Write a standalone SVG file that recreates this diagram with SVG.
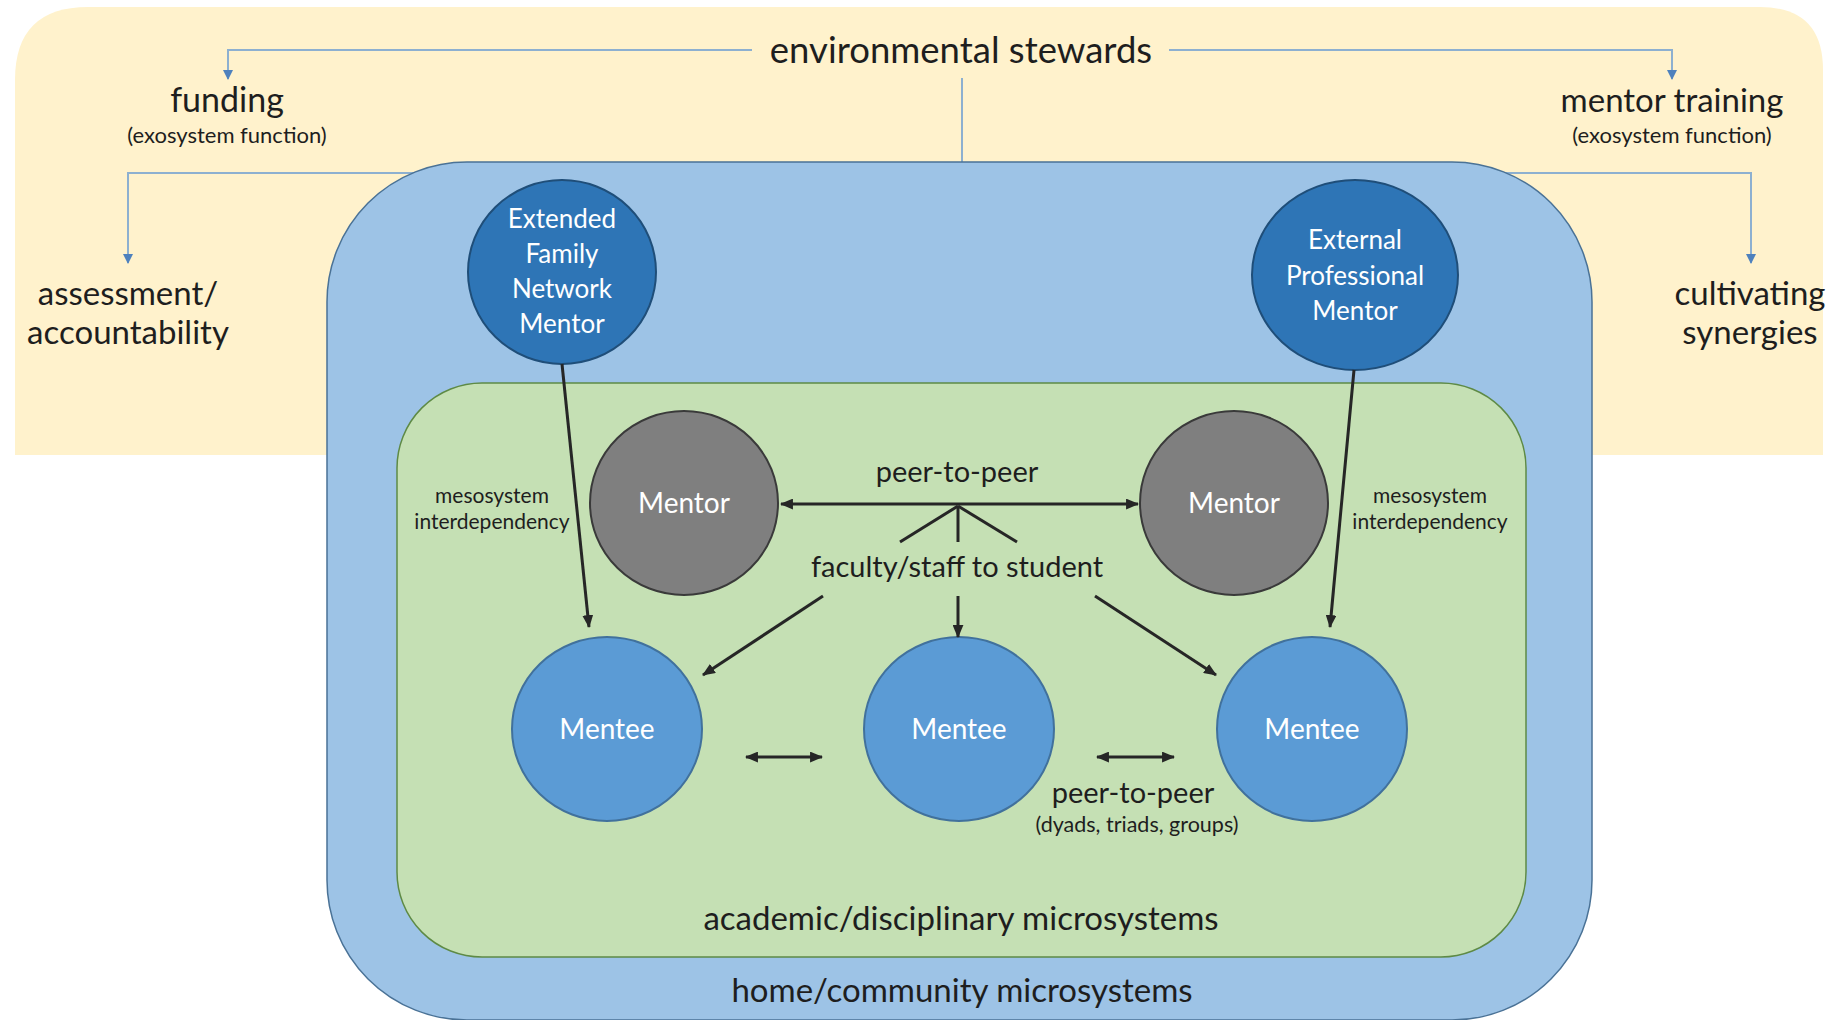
<svg xmlns="http://www.w3.org/2000/svg" width="1829" height="1020" viewBox="0 0 1829 1020">
<style>
  text { font-family: Lato, "Open Sans", "Liberation Sans", sans-serif; fill: #1e1e1e; text-anchor: middle; }
  .big { font-size: 33px; }
  .sub { font-size: 22px; }
  .mid { font-size: 29px; }
  .small { font-size: 21px; }
  .wt { fill: #ffffff; font-size: 26px; }
  .wn { fill: #ffffff; font-size: 28px; }
  .blue-line { fill: none; stroke: #8DB0D0; stroke-width: 2; }
  .blk { fill: none; stroke: #262626; stroke-width: 3; }
</style>
<defs>
  <marker id="ah" viewBox="0 0 12 10" markerWidth="13" markerHeight="11" refX="11" refY="5" orient="auto-start-reverse" markerUnits="userSpaceOnUse">
    <path d="M0,0 L12,5 L0,10 Z" fill="#262626"/>
  </marker>
  <marker id="bh" viewBox="0 0 10 10" markerWidth="11" markerHeight="10" refX="9" refY="5" orient="auto" markerUnits="userSpaceOnUse">
    <path d="M0,0 L10,5 L0,10 Z" fill="#4E81BD"/>
  </marker>
</defs>

<!-- exosystem background -->
<g id="exosystem">
  <path d="M15,455 V80 Q15,7 88,7 H1760 Q1823,7 1823,70 V455 Z" fill="#FFF2CC"/>
</g>

<!-- connectors behind the microsystem box -->
<g id="connectors-exo">
  <path class="blue-line" d="M752,50 H228 V79" marker-end="url(#bh)"/>
  <path class="blue-line" d="M1169,50 H1672 V79" marker-end="url(#bh)"/>
  <path class="blue-line" d="M414,173 H128 V263" marker-end="url(#bh)"/>
  <path class="blue-line" d="M1505,173 H1751 V263" marker-end="url(#bh)"/>
  <path class="blue-line" d="M962,78 V173"/>
</g>

<g id="home-microsystem">
  <rect x="327" y="162" width="1265" height="858" rx="140" ry="140" fill="#9DC3E6" stroke="#4A7296" stroke-width="1.5"/>
</g>
<g id="academic-microsystem">
  <rect x="397" y="383" width="1129" height="574" rx="85" ry="85" fill="#C5E0B4" stroke="#5E8A45" stroke-width="1.5"/>
</g>

<!-- labels -->
<g id="label-stewards"><text x="961" y="63" style="font-size:36.5px">environmental stewards</text></g>
<g id="label-funding">
  <text class="big" x="227" y="112" style="font-size:34px">funding</text>
  <text class="sub" x="227" y="143">(exosystem function)</text>
</g>
<g id="label-training">
  <text class="big" x="1672" y="112">mentor training</text>
  <text class="sub" x="1672" y="143">(exosystem function)</text>
</g>
<g id="label-assessment">
  <text class="big" x="128" y="305">assessment/</text>
  <text class="big" x="128" y="344">accountability</text>
</g>
<g id="label-synergies">
  <text class="big" x="1750" y="305">cultivating</text>
  <text class="big" x="1750" y="344">synergies</text>
</g>

<!-- nodes -->
<g id="extended-family-mentor">
  <ellipse cx="562" cy="272" rx="94" ry="92" fill="#2E75B6" stroke="#1F4E79" stroke-width="2"/>
  <text class="wt" x="562" y="228">Extended</text>
  <text class="wt" x="562" y="263">Family</text>
  <text class="wt" x="562" y="298">Network</text>
  <text class="wt" x="562" y="333">Mentor</text>
</g>
<g id="external-professional-mentor">
  <ellipse cx="1355" cy="275" rx="103" ry="95" fill="#2E75B6" stroke="#1F4E79" stroke-width="2"/>
  <text class="wt" x="1355" y="249">External</text>
  <text class="wt" x="1355" y="285">Professional</text>
  <text class="wt" x="1355" y="320">Mentor</text>
</g>
<g id="mentor-left">
  <ellipse cx="684" cy="503" rx="94" ry="92" fill="#7F7F7F" stroke="#3A3A3A" stroke-width="2"/>
  <text class="wn" x="684" y="513">Mentor</text>
</g>
<g id="mentor-right">
  <ellipse cx="1234" cy="503" rx="94" ry="92" fill="#7F7F7F" stroke="#3A3A3A" stroke-width="2"/>
  <text class="wn" x="1234" y="513">Mentor</text>
</g>
<g id="mentee-left">
  <ellipse cx="607" cy="729" rx="95" ry="92" fill="#5B9BD5" stroke="#41719C" stroke-width="2"/>
  <text class="wn" x="607" y="739">Mentee</text>
</g>
<g id="mentee-middle">
  <ellipse cx="959" cy="729" rx="95" ry="92" fill="#5B9BD5" stroke="#41719C" stroke-width="2"/>
  <text class="wn" x="959" y="739">Mentee</text>
</g>
<g id="mentee-right">
  <ellipse cx="1312" cy="729" rx="95" ry="92" fill="#5B9BD5" stroke="#41719C" stroke-width="2"/>
  <text class="wn" x="1312" y="739">Mentee</text>
</g>

<!-- inner labels -->
<g id="label-peer-mentors"><text class="mid" x="957" y="482">peer-to-peer</text></g>
<g id="label-faculty"><text class="mid" x="957" y="577">faculty/staff to student</text></g>
<g id="label-meso-left">
  <text class="small" x="492" y="503">mesosystem</text>
  <text class="small" x="492" y="529">interdependency</text>
</g>
<g id="label-meso-right">
  <text class="small" x="1430" y="503">mesosystem</text>
  <text class="small" x="1430" y="529">interdependency</text>
</g>
<g id="label-peer-mentees">
  <text class="mid" x="1133" y="803">peer-to-peer</text>
  <text class="small" x="1137" y="832" style="font-size:21.5px">(dyads, triads, groups)</text>
</g>
<g id="label-academic"><text class="big" x="961" y="930">academic/disciplinary microsystems</text></g>
<g id="label-home"><text class="big" x="962" y="1002">home/community microsystems</text></g>

<!-- connectors -->
<g id="connectors">
  <line class="blk" x1="562" y1="364" x2="589" y2="627" marker-end="url(#ah)"/>
  <line class="blk" x1="1354" y1="370" x2="1330" y2="627" marker-end="url(#ah)"/>
  <line class="blk" x1="781" y1="504" x2="1138" y2="504" marker-start="url(#ah)" marker-end="url(#ah)"/>
  <line class="blk" x1="958" y1="506" x2="900" y2="542"/>
  <line class="blk" x1="958" y1="506" x2="958" y2="542"/>
  <line class="blk" x1="958" y1="506" x2="1017" y2="542"/>
  <line class="blk" x1="823" y1="596" x2="703" y2="675" marker-end="url(#ah)"/>
  <line class="blk" x1="958" y1="596" x2="958" y2="637" marker-end="url(#ah)"/>
  <line class="blk" x1="1095" y1="596" x2="1216" y2="675" marker-end="url(#ah)"/>
  <line class="blk" x1="746" y1="757" x2="822" y2="757" marker-start="url(#ah)" marker-end="url(#ah)"/>
  <line class="blk" x1="1097" y1="757" x2="1174" y2="757" marker-start="url(#ah)" marker-end="url(#ah)"/>
</g>
</svg>
